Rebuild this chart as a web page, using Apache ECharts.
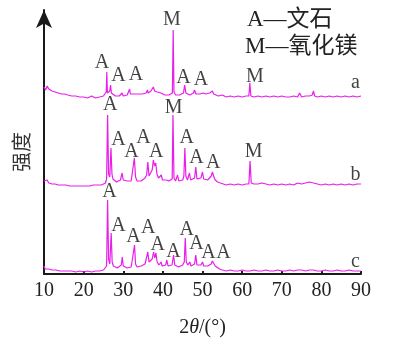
<!DOCTYPE html>
<html><head><meta charset="utf-8">
<script src="https://cdn.jsdelivr.net/npm/echarts@6/dist/echarts.min.js"></script>
<style>html,body{margin:0;padding:0;background:#fff}#c{width:397px;height:343px}</style>
</head><body><div id="c"></div>
<script>
// ---- data (2θ in degrees, intensity in arbitrary stacked units) ----
const patternA = [[10,187],[10.4,184],[10.8,188],[11.2,185],[11.6,186],[12,183],[12.4,185],[12.8,182],[13.2,184],[13.6,181],[14,183],[14.4,180],[14.8,182],[15.2,180],[15.6,181],[16,179],[16.5,180],[17,178],[17.5,179],[18,178],[18.5,179],[19,177],[19.5,178],[20,177],[20.5,178],[21,176],[21.5,177],[22,178],[22.5,177],[23,176],[23.5,178],[24,177],[24.5,178],[25,178],[25.5,179],[25.7,182],[25.85,202],[26.0,181],[26.3,180],[26.6,183],[26.8,189],[27.0,181],[27.4,179],[28,178],[28.5,179],[29,178],[29.4,178],[29.7,181],[30,178],[30.5,179],[31,179],[31.4,180],[31.6,185],[31.8,180],[32.3,179],[32.8,180],[33.2,179],[33.8,180],[34.3,179],[34.8,180],[35.3,180],[35.8,181],[36.1,184],[36.3,181],[36.7,182],[37.0,183],[37.3,185],[37.6,187],[37.9,183],[38.3,184],[38.6,182],[39,180],[39.5,181],[40,180],[40.5,179],[41,180],[41.5,179],[42,179],[42.4,181],[42.6,244],[42.8,182],[43.2,179],[43.7,180],[44.2,179],[44.7,180],[45.2,181],[45.5,189],[45.8,181],[46.3,180],[46.8,179],[47.3,180],[47.7,181],[48.0,184],[48.3,180],[48.8,181],[49.3,180],[49.8,179],[50.2,181],[50.5,183],[50.8,180],[51.3,180],[51.8,181],[52.2,182],[52.5,183],[52.8,180],[53.3,179],[54,178],[55,179],[56,177],[57,178],[58,177],[59,178],[60,177],[61,178],[61.7,178],[61.95,191],[62.2,178],[63,177],[64,178],[65,177],[66,178],[67,177],[68,178],[69,177],[70,178],[71,177],[72,177],[73,178],[74,177],[74.5,181],[75,177],[76,178],[77,178],[77.7,179],[78.0,183],[78.3,178],[79,177],[80,178],[81,177],[82,178],[83,177],[84,178],[85,177],[86,178],[87,177],[88,178],[89,177],[90,178]];

const patternB = [[10,93],[10.4,91],[10.8,94],[11.2,91],[11.6,92],[12,90],[12.4,92],[12.8,90],[13.2,91],[13.6,89],[14,91],[14.5,89],[15,90],[15.5,89],[16,90],[16.5,88],[17,89],[17.5,88],[18,89],[18.5,88],[19,89],[19.5,88],[20,89],[20.5,88],[21,89],[21.5,88],[22,89],[22.5,89],[23,88],[23.5,89],[24,90],[24.5,89],[25,90],[25.5,91],[25.8,95],[26.05,159],[26.3,100],[26.6,97],[26.9,126],[27.15,100],[27.4,95],[27.8,93],[28.3,92],[28.8,93],[29.3,94],[29.7,101],[30.0,94],[30.5,92],[31,93],[31.5,92],[32,93],[32.4,95],[32.8,116],[33.1,97],[33.5,93],[34,94],[34.5,93],[35,95],[35.5,96],[35.9,99],[36.2,112],[36.5,98],[36.9,97],[37.3,104],[37.6,114],[37.9,108],[38.2,111],[38.5,100],[38.9,96],[39.3,95],[39.6,99],[39.9,94],[40.4,93],[40.9,94],[41.2,96],[41.5,93],[42,92],[42.35,95],[42.55,159],[42.8,96],[43.2,93],[43.7,99],[44,93],[44.5,92],[45,94],[45.3,98],[45.55,126],[45.8,98],[46.2,94],[46.7,101],[47,94],[47.5,93],[48,96],[48.3,107],[48.6,95],[49.1,94],[49.6,96],[50,102],[50.3,95],[50.8,93],[51.3,94],[51.8,95],[52.2,98],[52.5,102],[52.8,98],[53.2,94],[53.8,92],[54.5,91],[55,90],[56,89],[57,90],[58,89],[59,90],[60,89],[61,90],[61.7,90],[62.0,113],[62.3,91],[63,90],[64,90],[65,91],[66,90],[67,89],[68,90],[69,89],[70,90],[71,89],[72,90],[73,89],[74,91],[75,90],[76,91],[77,92],[78,91],[79,90],[80,89],[81,90],[82,89],[83,90],[84,89],[85,90],[86,89],[87,90],[88,89],[89,90],[90,90]];

const patternC = [[10,8],[10.3,5],[10.7,7],[11.1,5],[11.5,6],[12,4],[12.5,5],[13,4],[13.5,5],[14,3],[14.5,4],[15,3],[15.5,4],[16,3],[17,3],[18,2],[19,3],[20,2],[21,3],[22,2],[23,3],[24,3],[25,4],[25.5,5],[25.8,8],[26.05,74],[26.3,15],[26.6,10],[26.95,41],[27.2,12],[27.5,8],[28,6],[28.5,6],[29,7],[29.5,9],[29.75,17],[30,8],[30.5,6],[31,6],[31.5,7],[32,7],[32.5,9],[32.85,29],[33.1,10],[33.5,7],[34,7],[34.5,8],[35,9],[35.5,10],[35.9,12],[36.2,22],[36.5,12],[36.9,11],[37.3,15],[37.65,22],[37.95,16],[38.25,21],[38.55,12],[39,9],[39.3,9],[39.55,12],[39.8,8],[40.3,8],[40.7,9],[41.0,14],[41.3,8],[41.8,7],[42.3,9],[42.7,19],[43,9],[43.5,8],[44,7],[44.5,8],[45,9],[45.4,12],[45.65,36],[45.9,12],[46.3,9],[46.8,12],[47.1,8],[47.6,8],[48,10],[48.3,19],[48.6,9],[49.1,8],[49.6,9],[50,12],[50.3,8],[50.8,7],[51.3,8],[51.8,8],[52.2,10],[52.5,13],[52.8,11],[53.2,8],[53.7,6],[54.3,5],[55,4],[56,3],[57,4],[58,3],[59,3],[60,4],[61,3],[62,3],[63,4],[64,3],[65,3],[66,4],[67,3],[68,3],[69,4],[70,3],[71,3],[72,4],[73,3],[74,4],[75,4],[76,3],[77,4],[78,4],[79,3],[80,3],[81,4],[82,3],[83,3],[84,4],[85,3],[86,3],[87,4],[88,3],[89,3],[90,3]];

// peak annotations (2θ, intensity, text)
const annTheta = [24.6,28.8,33.2,42.3,45.2,49.6,63.2,88.6,
                  26.7,42.7,28.8,32.1,35.1,38.3,46.0,48.5,52.7,62.9,88.6,
                  26.5,28.8,32.6,36.3,38.7,42.7,46.0,48.5,51.5,55.3,88.6];
const annInt   = [211,198,199,254,196,194,197,191,
                  169,166,134,122,136,122,136,116,111,122,99,
                  82,48,37,46,29,22,44,30,21,21,12];
const annText  = ['A','A','A','M','A','A','M','a',
                  'A','M','A','A','A','A','A','A','A','M','b',
                  'A','A','A','A','A','A','A','A','A','A','c'];

const xTicks = [10,20,30,40,50,60,70,80,90];
const legendLines = ['A\u2014文石','M\u2014氧化镁'];
const yName = '强度';

const chart = echarts.init(document.getElementById('c'), null, {renderer:'canvas'});
const lineColor = '#e91ee9';
const serif = 'Liberation Serif';
const mk = d => ({type:'line', data:d, showSymbol:false, symbol:'none', sampling:'none',
  lineStyle:{color:lineColor, width:1.2}, silent:true, animation:false, z:2});

chart.setOption({
  animation:false,
  grid:{left:44, right:36, top:10, bottom:69, containLabel:false},
  xAxis:{type:'value', min:xTicks[0], max:xTicks[xTicks.length-1], interval:10,
    axisLine:{lineStyle:{color:'#1a1a1a', width:2}},
    axisTick:{inside:true, length:3, lineStyle:{color:'#1a1a1a', width:2}},
    axisLabel:{fontFamily:serif, fontSize:20, color:'#222', margin:7},
    splitLine:{show:false},
    name:'{n|2}{i|θ}{n|/(°)}', nameLocation:'middle', nameGap:44,
    nameTextStyle:{rich:{n:{fontFamily:serif, fontSize:20, color:'#222'},
                         i:{fontFamily:serif, fontSize:20, fontStyle:'italic', color:'#222'}}}},
  yAxis:{type:'value', min:0, max:264,
    axisLine:{show:true, symbol:['none','arrow'], symbolSize:[12,18], lineStyle:{color:'#1a1a1a', width:2}},
    axisTick:{show:false}, axisLabel:{show:false}, splitLine:{show:false}},
  series:[mk(patternA), mk(patternB), mk(patternC),
    {type:'scatter', data:annTheta.map((t,i)=>[t, annInt[i], annText[i]]),
     symbol:'circle', symbolSize:1, itemStyle:{color:'rgba(0,0,0,0)'}, z:5, silent:true,
     label:{show:true, position:'inside', formatter:p=>p.data[2],
            fontFamily:serif, fontSize:20, color:'#111'}}],
  graphic:[
    {type:'text', left:247, top:8, style:{text:legendLines[0], font:'23px "Liberation Serif", "Noto Sans CJK SC"', fill:'#222'}},
    {type:'text', left:245, top:35, style:{text:legendLines[1], font:'23px "Liberation Serif", "Noto Sans CJK SC"', fill:'#222'}},
    {type:'text', x:21, y:152, rotation:Math.PI/2,
     style:{text:yName, font:'20px "Noto Sans CJK SC"', fill:'#333', align:'center', verticalAlign:'middle'}}
  ]
});
</script></body></html>
